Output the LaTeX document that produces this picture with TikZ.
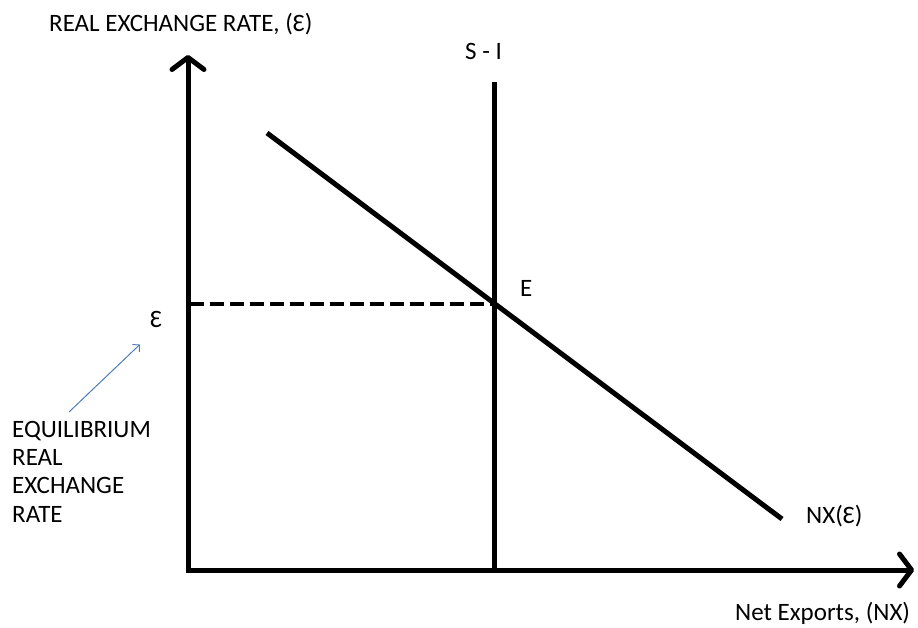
\documentclass[tikz,border=0pt]{standalone}
\usepackage{fontspec}
\setmainfont{Carlito}
\usetikzlibrary{arrows.meta}
\definecolor{pointerblue}{HTML}{4A7EBB}
\tikzset{
  axisline/.style={line width=5pt, line join=miter,
    {Straight Barb[length=12pt,width=32pt,round]}-{Straight Barb[length=12pt,width=32pt,round]}},
  curveline/.style={line width=5pt},
  guideline/.style={line width=4.5pt, dash pattern=on 14pt off 6pt},
  pointer/.style={pointerblue, line width=1pt, -{Straight Barb[length=5pt,width=10pt]}},
  lbl/.style={inner sep=0pt, anchor=base west, font=\fontsize{25}{28.3}\selectfont},
}

\begin{document}
\begin{tikzpicture}[x=1pt,y=-1pt]
\useasboundingbox (0,0) rectangle (918,628);

% Axes
\coordinate (O) at (188,570);
\coordinate (ytip) at (188,55);
\coordinate (xtip) at (914,570);
\draw [axisline] (ytip) -- (O) -- (xtip);

% S - I line
\coordinate (sitop) at (494,82);
\coordinate (sibot) at (494,570);
\draw [curveline] (sitop) -- (sibot);

% NX curve
\coordinate (nxA) at (267,133);
\coordinate (nxB) at (782,519);
\draw [curveline] (nxA) -- (nxB);

% Equilibrium point and dashed guide
\coordinate (E) at (494,304);
\coordinate (Eaxis) at (190,304);
\draw [guideline] (Eaxis) -- (E);

% Labels
\node [lbl] (ylbl) at (49,32) {REAL EXCHANGE RATE, (Ɛ)};
\node [lbl] (silbl) at (465,60) {S - I};
\node [lbl] (elbl) at (520,297) {E};
\node [lbl] (eps) at (150,327) {Ɛ};
\node [lbl, align=left] (eqlbl) at (12,522) {EQUILIBRIUM\\REAL\\EXCHANGE\\RATE};
\node [lbl] (nxlbl) at (806,523) {NX(Ɛ)};
\node [lbl] (xlbl) at (735,620) {Net Exports, (NX)};

% Pointer
\coordinate (ptail) at (69,412);
\draw [pointer] (ptail) -- ([shift={(-10,17)}]eps.south west);
\end{tikzpicture}
\end{document}
